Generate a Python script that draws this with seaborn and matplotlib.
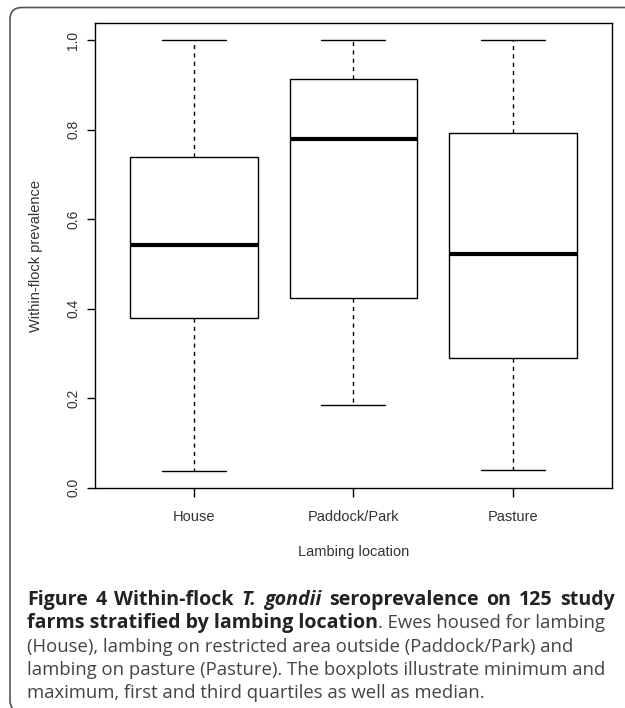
import pandas as pd
import seaborn as sns
import matplotlib.pyplot as plt
import numpy as np
from matplotlib.patches import FancyBboxPatch

# Five-number summaries (min, Q1, median, Q3, max)
locations = ["House", "Paddock/Park", "Pasture"]
house = [0.038, 0.379, 0.543, 0.739, 1.0]
paddock = [0.184, 0.423, 0.780, 0.913, 1.0]
pasture = [0.039, 0.291, 0.522, 0.792, 1.0]
y_ticks = [0.0, 0.2, 0.4, 0.6, 0.8, 1.0]

df = pd.DataFrame({
    "location": np.repeat(locations, 5),
    "prevalence": house + paddock + pasture,
})

sns.set_style("white")
plt.rcParams['font.family'] = ['Liberation Sans', 'DejaVu Sans']

fig = plt.figure(figsize=(6.25, 7.08), dpi=100)
ax = fig.add_axes([0.152, 0.3107, 0.827, 0.6568])

sns.boxplot(data=df, x="location", y="prevalence", order=locations,
            color="white", linecolor="black", linewidth=1, width=0.8,
            whis=(0, 100), fliersize=0, saturation=1,
            medianprops=dict(linewidth=3, color="black"),
            whiskerprops=dict(linestyle=(0, (3, 3)), color="black"),
            capprops=dict(color="black"),
            ax=ax)

ax.set_xlim(-0.617, 2.617)
ax.set_ylim(-0.0005, 1.0385)
ax.set_yticks(y_ticks)
ax.set_yticklabels([f"{v:.1f}" for v in y_ticks], rotation=90, va="center")
for s in ax.spines.values():
    s.set_visible(True)
    s.set_color("black")
    s.set_linewidth(1)
ax.tick_params(axis="x", length=6.5, width=1, pad=9, labelsize=10.5,
               labelcolor="#333333", color="black", bottom=True)
ax.tick_params(axis="y", length=6, width=1, pad=4.5, labelsize=10,
               labelcolor="#333333", color="black", left=True)

ax.set_xlabel("Lambing location", fontsize=10.5, color="#333333")
ax.set_ylabel("Within-flock prevalence", fontsize=10.5, color="#333333")
ax.xaxis.set_label_coords(0.5, -0.138)
ax.xaxis.label.set_va("center")
ax.yaxis.set_label_coords(-0.114, 0.5)
ax.yaxis.label.set_va("center")

# rounded frame around the figure panel
frame = FancyBboxPatch((0.10, -0.04), 6.4, 7.045,
                       boxstyle="round,pad=0,rounding_size=0.12",
                       transform=fig.dpi_scale_trans, fill=False,
                       edgecolor="#555555", linewidth=1.2)
fig.add_artist(frame)

# caption, drawn word by word so bold / italic parts sit inline
B, R, I = ("bold", "normal"), ("normal", "normal"), ("bold", "italic")
caption = [
    [("Figure 4 Within-flock", B), ("T. gondii", I), ("seroprevalence on 125 study", B)],
    [("farms stratified by lambing location", B), (". Ewes housed for lambing", R)],
    [("(House), lambing on restricted area outside (Paddock/Park) and", R)],
    [("lambing on pasture (Pasture). The boxplots illustrate minimum and", R)],
    [("maximum, first and third quartiles as well as median.", R)],
]
baselines = [605, 628.3, 651.7, 675, 698.3]
justify = [True, False, False, False, False]

renderer = fig.canvas.get_renderer()


def put(x, y, txt, style):
    weight, fstyle = style
    size = 14.1 if weight == "bold" else 13.35
    color = "#222222" if weight == "bold" else "#444444"
    return fig.text(x, y, txt, fontsize=size, fontweight=weight, fontstyle=fstyle,
                    family=["Open Sans", "DejaVu Sans"], color=color,
                    va="baseline", ha="left", transform=fig.dpi_scale_trans)


left, right = 0.27, 6.15
for runs, base, just in zip(caption, baselines, justify):
    y = (708 - base) / 100
    x = left
    if just:
        words = [(w, st) for txt, st in runs for w in txt.split(" ")]
        texts = [put(0, y, w, st) for w, st in words]
        widths = [t.get_window_extent(renderer).width / fig.dpi for t in texts]
        gap = (right - left - sum(widths)) / (len(words) - 1)
        for t, w in zip(texts, widths):
            t.set_x(x)
            x += w + gap
    else:
        for txt, st in runs:
            t = put(x, y, txt, st)
            x += t.get_window_extent(renderer).width / fig.dpi

fig.savefig("out.png", dpi=100)
